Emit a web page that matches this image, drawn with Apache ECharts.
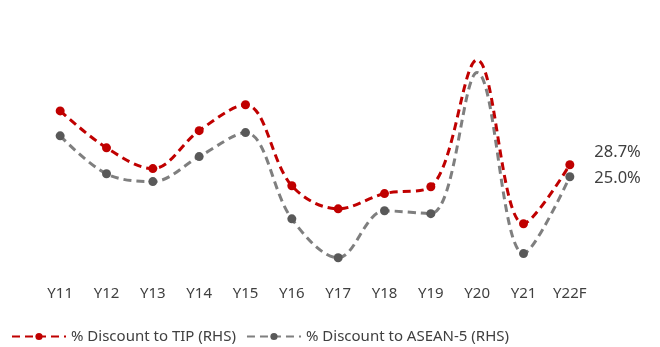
<!DOCTYPE html>
<html>
<head>
<meta charset="utf-8">
<script src="https://cdn.jsdelivr.net/npm/echarts@6/dist/echarts.min.js"></script>
<style>
  html, body { margin: 0; padding: 0; background: #ffffff; }
  #chart { width: 660px; height: 347px; }
</style>
</head>
<body>
<div id="chart"></div>
<script>
// Fiscal years on the category axis
const years = ['Y11', 'Y12', 'Y13', 'Y14', 'Y15', 'Y16', 'Y17', 'Y18', 'Y19', 'Y20', 'Y21', 'Y22F'];

// Discount series (%), right-hand scale
const discountTIP = [45.3, 33.9, 27.5, 39.2, 47.2, 22.2, 15.1, 19.8, 21.9, 61.0, 10.5, 28.7];
const discountASEAN5 = [37.6, 25.9, 23.5, 31.2, 38.6, 12.0, 0.0, 14.5, 13.6, 57.1, 1.3, 25.0];

const seriesNames = ['% Discount to TIP (RHS)', '% Discount to ASEAN-5 (RHS)'];

const FONT = 'Noto Sans';
const TEXT_COLOR = '#404040';

// The Y20 point is drawn without a marker; the last point carries a value label
function toData(values, labelOffset) {
  return values.map((v, i) => {
    const item = { value: v };
    if (i === 9) item.symbol = 'none';
    if (i === values.length - 1) {
      item.label = {
        show: true,
        position: 'right',
        distance: 20,
        offset: [0, labelOffset],
        formatter: (p) => p.value.toFixed(1) + '%',
        fontFamily: FONT,
        fontSize: 16.5,
        color: TEXT_COLOR
      };
    }
    return item;
  });
}

const chart = echarts.init(document.getElementById('chart'), null, { renderer: 'canvas' });

chart.setOption({
  animation: false,
  backgroundColor: '#ffffff',
  grid: { left: 37, right: 67, top: 47, bottom: 73, containLabel: false },
  xAxis: {
    type: 'category',
    data: years,
    boundaryGap: true,
    axisLine: { show: false },
    axisTick: { show: false },
    axisLabel: { fontFamily: FONT, fontSize: 15, color: TEXT_COLOR, margin: 12 }
  },
  yAxis: {
    type: 'value',
    min: -5,
    max: 65,
    show: false,
    splitLine: { show: false }
  },
  legend: {
    bottom: -2,
    left: 6,
    itemWidth: 54,
    itemHeight: 9,
    itemGap: 10,
    textStyle: { fontFamily: FONT, fontSize: 15, color: TEXT_COLOR },
    data: seriesNames
  },
  series: [
    {
      name: seriesNames[0],
      type: 'line',
      smooth: 0.35,
      data: toData(discountTIP, -12),
      symbol: 'circle',
      symbolSize: 9,
      lineStyle: { color: '#C00000', width: 3, type: [8, 5] },
      itemStyle: { color: '#C00000' },
      z: 3
    },
    {
      name: seriesNames[1],
      type: 'line',
      smooth: 0.35,
      data: toData(discountASEAN5, 2),
      symbol: 'circle',
      symbolSize: 9,
      lineStyle: { color: '#7F7F7F', width: 3, type: [8, 5] },
      itemStyle: { color: '#595959' },
      z: 2
    }
  ]
});
</script>
</body>
</html>
